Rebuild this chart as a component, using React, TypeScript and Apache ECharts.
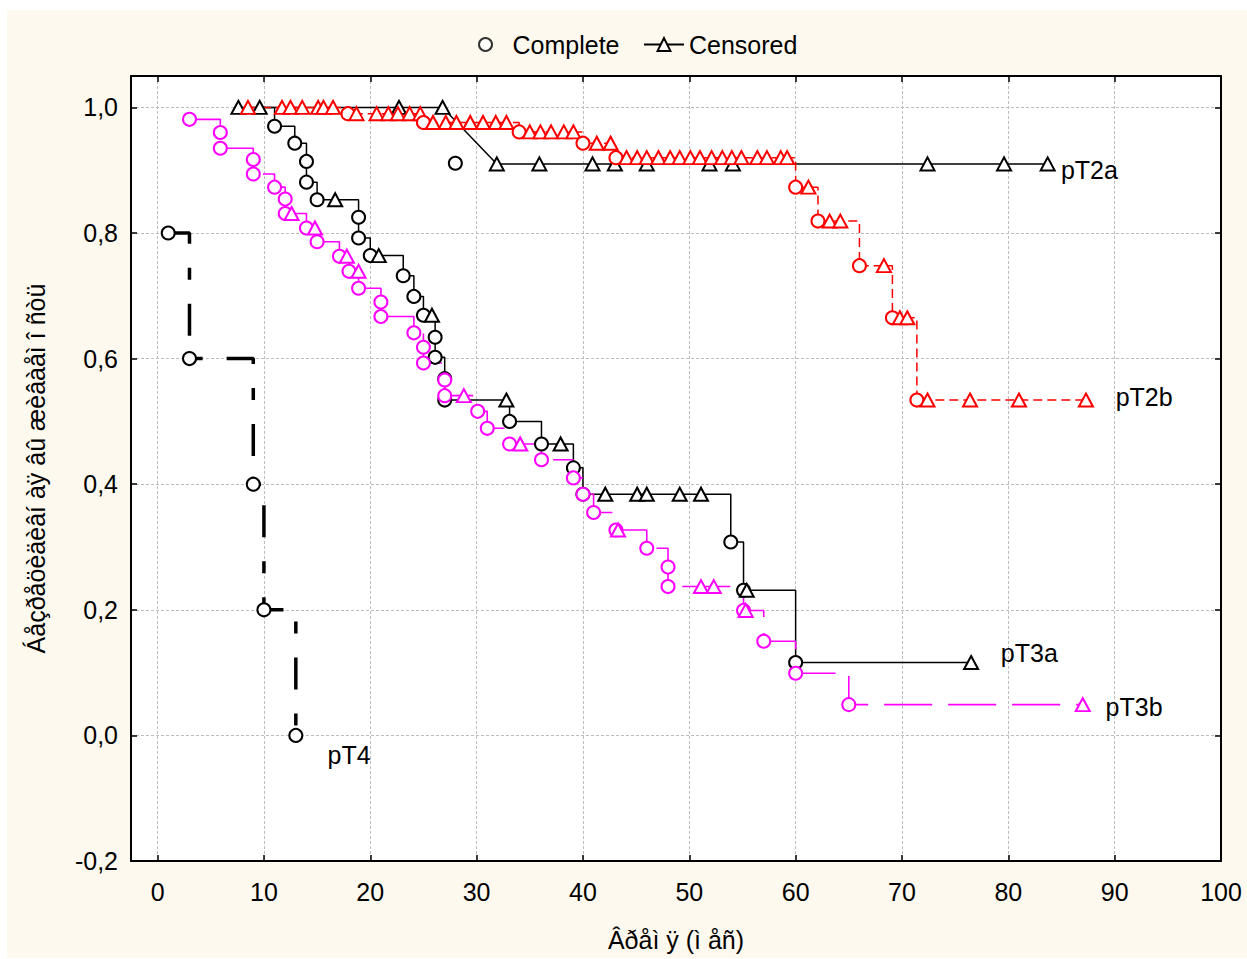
import React, { useEffect, useRef } from 'react';
import * as echarts from 'echarts';

// ---- tick values ----
const xTickValues = [0, 10, 20, 30, 40, 50, 60, 70, 80, 90, 100];
const yTickValues = [-0.2, 0, 0.2, 0.4, 0.6, 0.8, 1.0];

// ---- pT2a (black, solid) ----
const pT2aComplete: [number, number][] = [];
const pT2aStrayComplete: [number, number][] = [[28.0, 0.911]];
const pT2aCensored: [number, number][] = [
  [9.6, 1.0], [22.7, 1.0], [26.8, 1.0],
  [31.9, 0.91], [35.9, 0.91], [40.9, 0.91], [43.0, 0.91], [46.0, 0.91],
  [51.9, 0.91], [54.1, 0.91], [72.4, 0.91], [79.6, 0.91], [83.7, 0.91],
];

// ---- pT2b (red, dashed) ----
const pT2bComplete: [number, number][] = [
  [17.9, 0.99], [25.0, 0.976], [34.0, 0.961], [40.0, 0.943], [43.1, 0.92],
  [60.0, 0.873], [62.1, 0.819], [66.0, 0.748], [69.1, 0.665], [71.4, 0.534],
];
const pT2bCensored: [number, number][] = [
  [8.5, 1.0], [11.7, 1.0], [12.5, 1.0], [13.6, 1.0], [15.1, 1.0], [15.6, 1.0], [16.5, 1.0],
  [18.7, 0.99], [20.6, 0.99], [21.7, 0.99], [22.6, 0.99], [23.7, 0.99], [24.7, 0.99],
  [25.9, 0.976], [27.1, 0.976], [28.1, 0.976], [29.4, 0.976], [30.6, 0.976], [31.8, 0.976], [32.8, 0.976],
  [35.0, 0.961], [36.0, 0.961], [37.0, 0.961], [38.2, 0.961], [39.1, 0.961],
  [41.3, 0.943], [42.6, 0.943],
  [44.1, 0.92], [45.1, 0.92], [46.0, 0.92], [47.1, 0.92], [48.2, 0.92], [49.1, 0.92], [50.1, 0.92],
  [51.0, 0.92], [52.1, 0.92], [53.1, 0.92], [54.0, 0.92], [54.9, 0.92], [56.4, 0.92], [57.3, 0.92],
  [58.6, 0.92], [59.2, 0.92],
  [61.2, 0.873], [63.2, 0.819], [64.2, 0.819], [68.3, 0.748], [69.8, 0.665], [70.5, 0.665],
  [72.4, 0.534], [76.4, 0.534], [81.0, 0.534], [87.3, 0.534],
];

// ---- pT3a (black, solid) ----
const pT3aComplete: [number, number][] = [
  [11.0, 0.97], [12.9, 0.943], [14.0, 0.914], [14.0, 0.881], [15.0, 0.853],
  [18.9, 0.825], [18.9, 0.792], [20.0, 0.764], [23.1, 0.732], [24.1, 0.699], [25.0, 0.669],
  [26.1, 0.634], [26.1, 0.602], [27.0, 0.568], [27.0, 0.534], [33.1, 0.5], [36.1, 0.464],
  [39.1, 0.426], [40.0, 0.384], [53.9, 0.308], [55.1, 0.231], [60.0, 0.116],
];
const pT3aCensored: [number, number][] = [
  [7.6, 1.0], [16.7, 0.853], [20.8, 0.764], [25.8, 0.669], [32.8, 0.534], [37.9, 0.464],
  [42.1, 0.384], [45.1, 0.384], [46.0, 0.384], [49.1, 0.384], [51.1, 0.384],
  [55.4, 0.231], [76.5, 0.116],
];

// ---- pT3b (magenta, long dash) ----
const pT3bComplete: [number, number][] = [
  [3.0, 0.981], [5.9, 0.96], [5.9, 0.935], [9.0, 0.917], [9.0, 0.894], [11.0, 0.873],
  [12.0, 0.854], [12.0, 0.831], [14.0, 0.808], [15.0, 0.786], [17.1, 0.763], [18.0, 0.739],
  [18.9, 0.712], [21.0, 0.69], [21.0, 0.667], [24.1, 0.641], [25.0, 0.618], [25.0, 0.593],
  [27.0, 0.566], [27.0, 0.541], [30.1, 0.516], [31.0, 0.489], [33.1, 0.464], [36.1, 0.439],
  [39.1, 0.41], [40.0, 0.384], [41.0, 0.355], [43.1, 0.327], [46.0, 0.298], [48.0, 0.268],
  [48.0, 0.237], [55.1, 0.199], [57.0, 0.15], [60.0, 0.099], [65.0, 0.049],
];
const pT3bCensored: [number, number][] = [
  [12.6, 0.831], [14.8, 0.808], [17.8, 0.763], [18.9, 0.739], [28.8, 0.541], [34.1, 0.464],
  [43.3, 0.327], [51.1, 0.237], [52.3, 0.237], [55.3, 0.199], [87.0, 0.049],
];

// ---- pT4 (black, thick dash) ----
const pT4Complete: [number, number][] = [[1.0, 0.8], [3.0, 0.6], [9.0, 0.4], [10.0, 0.2], [13.0, 0.0]];
const pT4Censored: [number, number][] = [];

// ---- group labels ----
const groupLabelNames = ['pT2a', 'pT2b', 'pT3a', 'pT3b', 'pT4'];
const groupLabelX = [84.9, 90.05, 79.25, 89.1, 15.94];
const groupLabelY = [0.901, 0.539, 0.131, 0.046, -0.032];

const FONT = '"Liberation Sans", Arial, sans-serif';
const FS = 25;

function buildPath(complete: [number, number][], censored: [number, number][]) {
  const pts = [
    ...complete.map((p) => ({ x: p[0], y: p[1], ev: true })),
    ...censored.map((p) => ({ x: p[0], y: p[1], ev: false })),
  ];
  pts.sort((a, b) => a.x - b.x || b.y - a.y);
  return pts.map((p) => ({
    value: [p.x, p.y],
    symbol: p.ev ? 'emptyCircle' : 'emptyTriangle',
    symbolSize: p.ev ? 13 : [14, 13],
  }));
}

const groups = [
  { name: 'pT2a', complete: pT2aComplete, censored: pT2aCensored, step: false as any, color: '#000000', width: 1.5, dash: 'solid' as any, border: 1.6 },
  { name: 'pT3a', complete: pT3aComplete, censored: pT3aCensored, step: 'end' as any, color: '#000000', width: 1.5, dash: 'solid' as any, border: 1.6 },
  { name: 'pT4', complete: pT4Complete, censored: pT4Censored, step: 'end' as any, color: '#000000', width: 3.5, dash: [32, 24, 12, 24] as any, border: 2 },
  { name: 'pT2b', complete: pT2bComplete, censored: pT2bCensored, step: 'end' as any, color: '#ff0000', width: 1.5, dash: [9, 5] as any, border: 1.6 },
  { name: 'pT3b', complete: pT3bComplete, censored: pT3bCensored, step: 'end' as any, color: '#ff00ff', width: 1.6, dash: [48, 16] as any, border: 1.6 },
];

export default function App() {
  const ref = useRef<HTMLDivElement>(null);

  useEffect(() => {
    if (!ref.current) return;
    const chart = echarts.init(ref.current, undefined, { renderer: 'svg' });

    const series: any[] = [];
    groups.forEach((g) => {
      series.push({
        name: g.name,
        type: 'line',
        step: g.step,
        data: buildPath(g.complete, g.censored),
        showSymbol: true,
        showAllSymbol: true,
        lineStyle: { color: g.color, width: g.width, type: g.dash },
        itemStyle: { color: g.color, borderWidth: g.border },
        emphasis: { disabled: true },
      });
      if (g.name === 'pT2a') {
        series.push({
          name: 'pT2a-stray',
          type: 'scatter',
          data: pT2aStrayComplete,
          symbol: 'emptyCircle',
          symbolSize: 13,
          itemStyle: { color: g.color, borderWidth: g.border, opacity: 1 },
          emphasis: { disabled: true },
        });
      }
    });

    series.push({
      name: 'labels',
      type: 'scatter',
      symbolSize: 1,
      itemStyle: { color: 'rgba(0,0,0,0)', opacity: 1 },
      data: groupLabelNames.map((n, i) => ({ name: n, value: [groupLabelX[i], groupLabelY[i]] })),
      label: {
        show: true,
        position: 'right',
        distance: 0,
        formatter: '{b}',
        color: '#000',
        fontSize: FS,
        fontFamily: FONT,
      },
      silent: true,
    });

    // legend-only series
    series.push({
      name: 'Complete',
      type: 'scatter',
      data: [],
      symbol: 'emptyCircle',
      itemStyle: { color: '#000' },
    });
    series.push({
      name: 'Censored',
      type: 'line',
      data: [],
      symbol: 'emptyTriangle',
      lineStyle: { color: '#000', width: 1.5 },
      itemStyle: { color: '#000' },
    });

    const splitLine = { show: true, lineStyle: { color: '#bdbdbd', width: 1, type: [3, 2] } };
    const axisLine = { show: true, onZero: false, lineStyle: { color: '#000', width: 2 } };

    chart.setOption({
      animation: false,
      backgroundColor: '#fdf9ee',
      textStyle: { fontFamily: FONT },
      grid: { left: 124, right: 26, top: 66, bottom: 97, show: true, backgroundColor: '#ffffff', borderWidth: 0 },
      legend: [
        {
          data: ['Complete'],
          left: 466,
          top: 17,
          itemWidth: 44,
          itemHeight: 13,
          selectedMode: false,
          textStyle: { fontSize: FS, color: '#000', fontFamily: FONT },
        },
        {
          data: ['Censored'],
          left: 631,
          top: 17,
          itemWidth: 40,
          itemHeight: 16,
          selectedMode: false,
          textStyle: { fontSize: FS, color: '#000', fontFamily: FONT },
        },
      ],
      xAxis: [
        {
          type: 'value',
          position: 'bottom',
          min: -2.5,
          max: 100,
          axisLine,
          axisTick: { show: true, inside: true, length: 6, customValues: xTickValues, lineStyle: { color: '#000', width: 1.5 } },
          axisLabel: { customValues: xTickValues, fontSize: FS, color: '#000', margin: 18, fontFamily: FONT },
          splitLine,
          name: 'Âðåì ÿ (ì åñ)',
          nameLocation: 'middle',
          nameGap: 66,
          nameTextStyle: { fontSize: FS, color: '#000', fontFamily: FONT },
        },
        {
          type: 'value',
          position: 'top',
          min: -2.5,
          max: 100,
          axisLine,
          axisTick: { show: true, inside: true, length: 6, customValues: xTickValues, lineStyle: { color: '#000', width: 1.5 } },
          axisLabel: { show: false },
          splitLine: { show: false },
        },
      ],
      yAxis: [
        {
          type: 'value',
          position: 'left',
          min: -0.2,
          max: 1.05,
          axisLine,
          axisTick: { show: true, inside: true, length: 6, customValues: yTickValues, lineStyle: { color: '#000', width: 1.5 } },
          axisLabel: {
            customValues: yTickValues,
            fontSize: FS,
            color: '#000',
            margin: 13,
            fontFamily: FONT,
            formatter: (v: number) => v.toFixed(1).replace('.', ','),
          },
          splitLine,
          name: 'Áåçðåöèäèâí àÿ âû æèâàåì î ñòü',
          nameLocation: 'middle',
          nameGap: 83,
          nameTextStyle: { fontSize: FS, color: '#000', fontFamily: FONT },
        },
        {
          type: 'value',
          position: 'right',
          min: -0.2,
          max: 1.05,
          axisLine,
          axisTick: { show: true, inside: true, length: 6, customValues: yTickValues, lineStyle: { color: '#000', width: 1.5 } },
          axisLabel: { show: false },
          splitLine: { show: false },
        },
      ],
      series,
    });

    return () => {
      chart.dispose();
    };
  }, []);

  return (
    <div style={{ position: 'fixed', left: 0, top: 0, width: 1247, height: 959, background: '#ffffff' }}>
      <div ref={ref} style={{ position: 'absolute', left: 7, top: 10, width: 1240, height: 948 }} />
    </div>
  );
}
